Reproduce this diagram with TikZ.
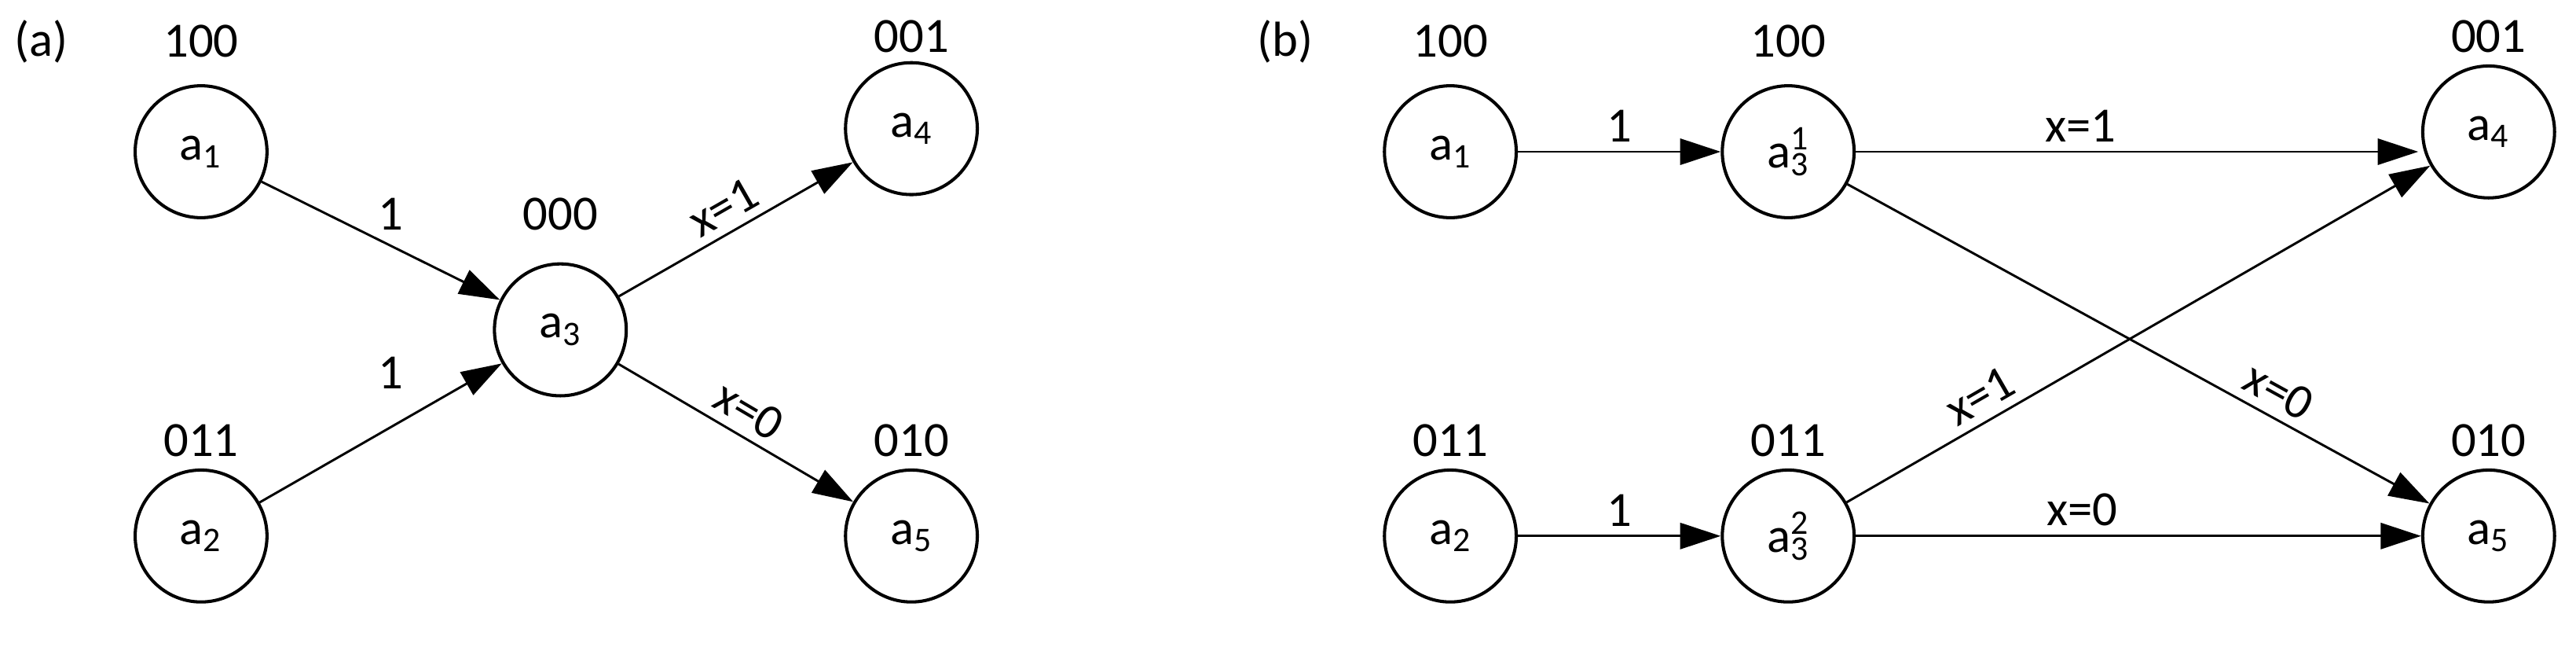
\documentclass[tikz,border=0pt]{standalone}
\usepackage{fontspec}
\setmainfont{Carlito}
\usetikzlibrary{arrows.meta}
\newcommand{\mysb}[1]{\textsubscript{#1}}
\newcommand{\mysbsp}[2]{\rlap{\textsuperscript{#2}}\textsubscript{#1}}
\begin{document}
\begin{tikzpicture}[x=0.02cm,y=-0.02cm,
  st/.style={circle,draw,line width=1.1pt,minimum size=1.6cm,inner sep=0pt,font=\fontsize{17}{20}\selectfont},
  lb/.style={font=\fontsize{17}{20}\selectfont},
  ar/.style={-{Triangle[length=14pt,width=9pt]},line width=0.8pt},
  el/.style={font=\fontsize{17}{20}\selectfont,above,sloped,inner sep=3pt},
  eh/.style={font=\fontsize{17}{20}\selectfont,inner sep=0pt}]
\useasboundingbox (0,0) rectangle (1563,392);
\node[lb] (la) at (25,25) {(a)};
\node[st] (a1) at (122,92) {a\mysb{1}};
\node[st] (a2) at (122,325) {a\mysb{2}};
\node[st] (a3) at (340,200) {a\mysb{3}};
\node[st] (a4) at (553,78) {a\mysb{4}};
\node[st] (a5) at (553,325) {a\mysb{5}};
\node[lb] (t1) at (122,25) {100};
\node[lb] (t2) at (122,267) {011};
\node[lb] (t3) at (340,130) {000};
\node[lb] (t4) at (553,22) {001};
\node[lb] (t5) at (553,267) {010};
\draw[ar] (a1) -- (a3);
\draw[ar] (a2) -- (a3);
\node[eh] (e1) at (237,130) {1};
\node[eh] (e2) at (237,226) {1};
\draw[ar] (a3) -- node[el]{x=1} (a4);
\draw[ar] (a3) -- node[el]{x=0} (a5);

\node[lb] (lb2) at (780,25) {(b)};
\node[st] (b1) at (880,92) {a\mysb{1}};
\node[st] (b2) at (880,325) {a\mysb{2}};
\node[st] (b31) at (1085,92) {a\mysbsp{3}{1}};
\node[st] (b32) at (1085,325) {a\mysbsp{3}{2}};
\node[st] (b4) at (1510,80) {a\mysb{4}};
\node[st] (b5) at (1510,325) {a\mysb{5}};
\node[lb] (u1) at (880,25) {100};
\node[lb] (u2) at (880,267) {011};
\node[lb] (u3) at (1085,25) {100};
\node[lb] (u4) at (1085,267) {011};
\node[lb] (u5) at (1510,22) {001};
\node[lb] (u6) at (1510,267) {010};
\draw[ar] (b1) -- node[el]{1} (b31);
\draw[ar] (b2) -- node[el]{1} (b32);
\coordinate (h4) at ([xshift=-1pt]b4.west |- b31);
\draw[ar] (b31.east) -- node[el,pos=0.4]{x=1} (h4);
\draw[ar] (b32) -- node[el,pos=0.4]{x=0} (b5);
\draw[ar] (b31) -- node[el,pos=0.72]{x=0} (b5);
\draw[ar] (b32) -- node[el,pos=0.25]{x=1} (b4);
\end{tikzpicture}
\end{document}
